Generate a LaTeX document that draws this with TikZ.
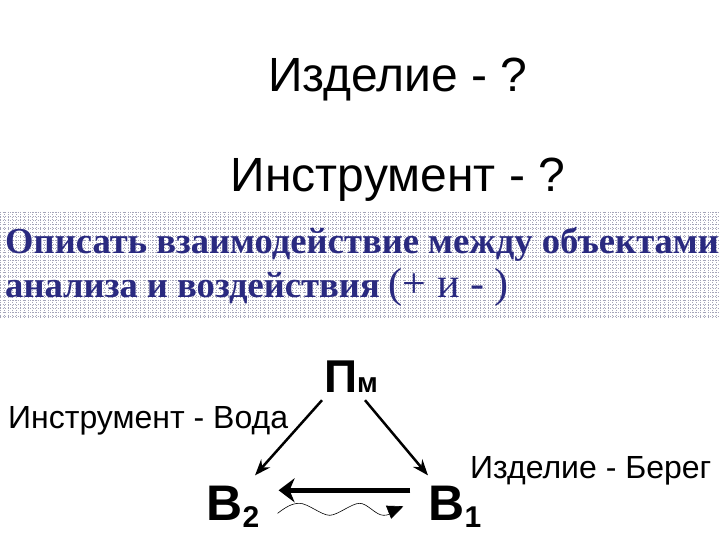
\documentclass[tikz,border=0pt]{standalone}
\usepackage{fontspec}
\setmainfont{Liberation Sans}
\newfontfamily\tms{Liberation Serif}
\usetikzlibrary{arrows.meta}
\definecolor{navy}{RGB}{42,42,128}
\definecolor{gridc}{RGB}{165,165,185}
\tikzset{
  big/.style={font=\fontsize{48}{48}\selectfont, anchor=base, inner sep=0pt},
  lbl/.style={font=\fontsize{32}{32}\selectfont, anchor=base west, inner sep=0pt},
  band/.style={font=\tms\bfseries\fontsize{36.6}{36.6}\selectfont, text=navy, anchor=base west, inner sep=0pt},
  letter/.style={font=\bfseries\fontsize{50}{50}\selectfont, anchor=base, inner sep=2pt},
  diag/.style={line width=2.5pt, -{Stealth[open,length=16pt,width=12pt]}},
  bold/.style={line width=5pt, -{Stealth[length=16pt,width=24pt,inset=5pt]}},
  wave/.style={line width=0.6pt, -{Triangle[length=16pt,width=14pt]}}
}
\begin{document}
\begin{tikzpicture}[x=1pt,y=-1pt]
\useasboundingbox (0,0) rectangle (720,540);
\fill[white] (0,0) rectangle (720,540);
% grid band
\foreach \yy in {212,216,...,318} \draw[gridc, line width=0.5pt, dotted] (0,\yy) -- (720,\yy);
\foreach \xx in {0,4,...,720} \draw[gridc, line width=0.5pt, dotted] (\xx,212) -- (\xx,318);
\node[big] (t1) at (398,92) {Изделие - ?};
\node[big] (t2) at (398,192) {Инструмент - ?};
\node[band] (b1) at (5,253) {Описать взаимодействие между объектами};
\node[band] (b2) at (5,297) {анализа и воздействия {\mdseries\fontsize{42}{42}\selectfont(+ и - )}};
\node[letter, font=\bfseries\fontsize{46}{46}\selectfont] (pm) at (351,392) {П{\fontsize{28}{28}\selectfont м}};
\node[lbl] (tool) at (8,428) {Инструмент - Вода};
\node[lbl] (prod) at (470,478) {Изделие - Берег};
\node[letter] (v2) at (233,520) {В{\fontsize{30}{30}\selectfont\raisebox{-7pt}{2}}};
\node[letter] (v1) at (455,520) {В{\fontsize{30}{30}\selectfont\raisebox{-7pt}{1}}};
\draw[diag] ([xshift=-29pt,yshift=-6pt]pm.south) -- ([xshift=22pt,yshift=8pt]v2.north);
\draw[diag] ([xshift=14pt,yshift=-6pt]pm.south) -- ([xshift=-27pt,yshift=8pt]v1.north);
\draw[bold] ([xshift=-16pt,yshift=16pt]v1.west) -- ([xshift=17pt,yshift=16pt]v2.east);
\coordinate (ws) at ([xshift=16pt,yshift=-7pt]v2.east);
\coordinate (we) at ([xshift=-23pt,yshift=0pt]v1.west);
\draw[wave] (ws) .. controls ++(8,-6) and ++(-8,0) .. ++(22,-10)
  .. controls ++(8,0) and ++(-8,0) .. ++(30,12)
  .. controls ++(8,0) and ++(-8,0) .. ++(30,-12)
  .. controls ++(8,0) and ++(-8,0) .. ++(24,12)
  .. controls ++(8,0) and ++(-10,4) .. (we);
\end{tikzpicture}
\end{document}
